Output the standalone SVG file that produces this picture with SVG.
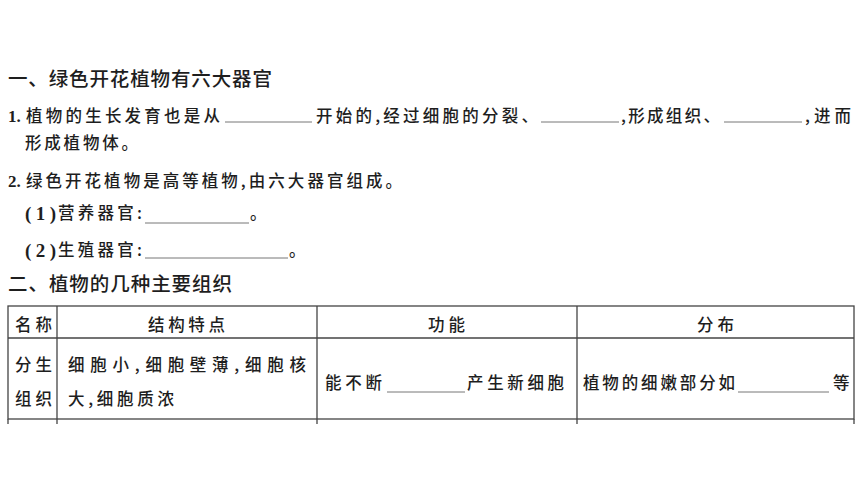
<svg xmlns="http://www.w3.org/2000/svg" width="860" height="484" viewBox="0 0 860 484">
<style>
.t{font-family:"Noto Sans CJK SC","Liberation Sans",sans-serif;font-size:16.5px;font-weight:500;fill:#1e1e1e}
.h{font-family:"Noto Sans CJK SC","Liberation Sans",sans-serif;font-size:19.5px;font-weight:500;fill:#1e1e1e}
.n{font-family:"Liberation Serif","Noto Sans CJK SC",serif;font-size:17px;font-weight:bold;fill:#1e1e1e}
.p{font-family:"Liberation Serif","Noto Sans CJK SC",serif;font-size:19px;font-weight:bold;fill:#1e1e1e}
.u{stroke:#666;stroke-width:0.9}
.g{stroke:#444;stroke-width:1.3;fill:none}
</style>
<rect width="860" height="484" fill="#fff"/>
<text class="h" x="8" y="86" textLength="264" lengthAdjust="spacing">一、绿色开花植物有六大器官</text>
<text class="n" x="8" y="122">1.</text>
<text class="t" x="26" y="122" textLength="194" lengthAdjust="spacing">植物的生长发育也是从</text>
<line class="u" x1="225" y1="122" x2="312" y2="122"/>
<text class="t" x="316" y="122" textLength="222" lengthAdjust="spacing">开始的,经过细胞的分裂、</text>
<line class="u" x1="541" y1="122" x2="619" y2="122"/>
<text class="t" x="621" y="122" textLength="99" lengthAdjust="spacing">,形成组织、</text>
<line class="u" x1="724" y1="122" x2="802" y2="122"/>
<text class="t" x="805" y="122" textLength="46" lengthAdjust="spacing">,进而</text>
<text class="t" x="25" y="149" textLength="113" lengthAdjust="spacing">形成植物体。</text>
<text class="n" x="8" y="187">2.</text>
<text class="t" x="26" y="187" textLength="376" lengthAdjust="spacing">绿色开花植物是高等植物,由六大器官组成。</text>
<text class="p" x="25" y="220" textLength="31" lengthAdjust="spacing">(1)</text>
<text class="t" x="58" y="219" textLength="84" lengthAdjust="spacing">营养器官:</text>
<line class="u" x1="145" y1="223" x2="249" y2="223"/>
<text class="t" x="250" y="219">。</text>
<text class="p" x="25" y="257" textLength="31" lengthAdjust="spacing">(2)</text>
<text class="t" x="58" y="256" textLength="84" lengthAdjust="spacing">生殖器官:</text>
<line class="u" x1="145" y1="258" x2="288" y2="258"/>
<text class="t" x="289" y="256">。</text>
<text class="h" x="8" y="291" textLength="224" lengthAdjust="spacing">二、植物的几种主要组织</text>
<g id="table">
<rect class="g" x="8" y="306" width="846" height="113"/>
<line class="g" x1="8" y1="338" x2="854" y2="338"/>
<line class="g" x1="57" y1="306" x2="57" y2="424"/>
<line class="g" x1="317" y1="306" x2="317" y2="424"/>
<line class="g" x1="577" y1="306" x2="577" y2="424"/>
<line class="g" x1="8" y1="419" x2="8" y2="424"/>
<line class="g" x1="854" y1="419" x2="854" y2="424"/>
<text class="t" x="15" y="331" textLength="37" lengthAdjust="spacing">名称</text>
<text class="t" x="148" y="331" textLength="77" lengthAdjust="spacing">结构特点</text>
<text class="t" x="428" y="331" textLength="37" lengthAdjust="spacing">功能</text>
<text class="t" x="697" y="331" textLength="37" lengthAdjust="spacing">分布</text>
<text class="t" x="15" y="371" textLength="37" lengthAdjust="spacing">分生</text>
<text class="t" x="15" y="405" textLength="37" lengthAdjust="spacing">组织</text>
<text class="t" x="68" y="371" textLength="238" lengthAdjust="spacing">细胞小,细胞壁薄,细胞核</text>
<text class="t" x="68" y="405" textLength="106" lengthAdjust="spacing">大,细胞质浓</text>
<text class="t" x="325" y="389" textLength="57" lengthAdjust="spacing">能不断</text>
<line class="u" x1="387" y1="392" x2="465" y2="392"/>
<text class="t" x="467" y="389" textLength="97" lengthAdjust="spacing">产生新细胞</text>
<text class="t" x="583" y="389" textLength="152" lengthAdjust="spacing">植物的细嫩部分如</text>
<line class="u" x1="738" y1="392" x2="829" y2="392"/>
<text class="t" x="833" y="389">等</text>
</g>
</svg>
